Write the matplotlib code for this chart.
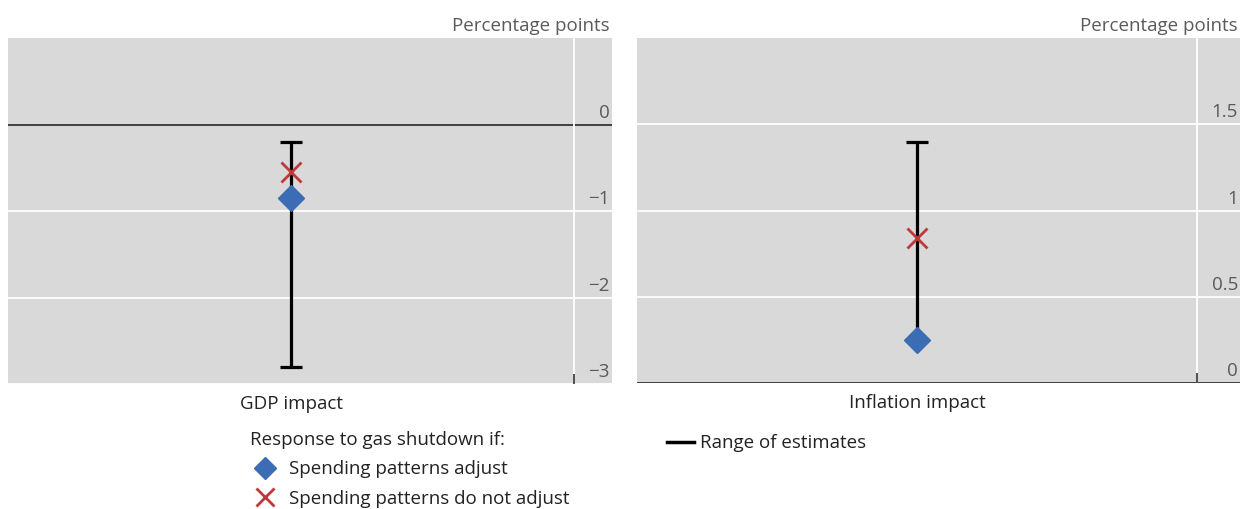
import matplotlib.pyplot as plt
from matplotlib.lines import Line2D
import matplotlib.transforms as mtransforms

plt.rcParams['font.family'] = ['Open Sans', 'DejaVu Sans']

# data
panels = ['GDP impact', 'Inflation impact']
range_low = [-2.8, 0.25]
range_high = [-0.2, 1.4]
adjust = [-0.85, 0.25]
no_adjust = [-0.55, 0.84]
ylims = [(-3, 1), (0, 2)]
yticks = [[0, -1, -2, -3], [1.5, 1, 0.5, 0]]
ytick_labels = [['0', '\u22121', '\u22122', '\u22123'], ['1.5', '1', '0.5', '0']]
unit = 'Percentage points'

bg = '#d9d9d9'
blue = '#3b6cb4'
red = '#c0383a'
grey_txt = '#5a5a5a'
dark_txt = '#222222'
fs = 13.5

fig = plt.figure(figsize=(12.43, 5.09), dpi=100)
W, H = 1243, 509
# pixel boxes (left, top, right, bottom) and plot-area right edge
boxes = [(8, 38, 612, 384, 574), (637, 38, 1240, 383, 1197)]

for i, (l, t, r, b, pr) in enumerate(boxes):
    ax = fig.add_axes([l / W, 1 - b / H, (r - l) / W, (b - t) / H])
    ax.set_facecolor(bg)
    for s in ax.spines.values():
        s.set_visible(False)
    plot_w = pr - l
    ax.set_xlim(-0.5, 0.5 + (r - pr) / plot_w)
    ax.set_ylim(*ylims[i])
    for v in yticks[i]:
        if v == 0:
            ax.axhline(v, color='#333333', lw=1.3, zorder=1)
        else:
            ax.axhline(v, color='white', lw=1.3, zorder=1)
    ax.axvline(0.5, color='white', lw=1.3, zorder=1)
    ax.set_yticks([])
    ax.set_xticks([0])
    ax.set_xticklabels([panels[i]], fontsize=fs, color=dark_txt)
    ax.tick_params(axis='x', length=0, pad=8)
    ax.set_xticks([0.5], minor=True)
    ax.tick_params(axis='x', which='minor', direction='in', length=7, width=1.2, color='#333333')
    for v, lbl in zip(yticks[i], ytick_labels[i]):
        ax.annotate(lbl, xy=(1, v), xycoords=('axes fraction', 'data'),
                    xytext=(-1.5, 2), textcoords='offset points',
                    ha='right', va='bottom', fontsize=fs, color=grey_txt)
    ax.text(1, 1, unit, transform=ax.transAxes + mtransforms.ScaledTranslation(-1.5 / 72, 2 / 72, fig.dpi_scale_trans),
            ha='right', va='bottom', fontsize=fs, color=grey_txt)

    mid = (range_low[i] + range_high[i]) / 2
    half = (range_high[i] - range_low[i]) / 2
    ax.errorbar([0], [mid], yerr=[[half], [half]], fmt='none', ecolor='black',
                elinewidth=2.3, capsize=8, capthick=2.3, zorder=3)
    ax.plot([0], [no_adjust[i]], 'x', color=red, ms=14, mew=2, zorder=4)
    ax.plot([0], [adjust[i]], 'D', color=blue, ms=13, zorder=5)

h_adj = Line2D([], [], ls='none', marker='D', color=blue, ms=11)
h_no = Line2D([], [], ls='none', marker='x', color=red, ms=13, mew=2)
leg1 = fig.legend([h_adj, h_no], ['Spending patterns adjust', 'Spending patterns do not adjust'],
                  title='Response to gas shutdown if:', loc='upper left',
                  bbox_to_anchor=(237 / W, 1 - 418 / H), frameon=False, fontsize=fs,
                  title_fontsize=fs, handlelength=1.6, handletextpad=0.45,
                  labelspacing=0.6, alignment='left', borderpad=0.2)
for t in leg1.get_texts():
    t.set_color(dark_txt)
leg1.get_title().set_color(dark_txt)

h_rng = Line2D([], [], color='black', lw=2.5)
leg2 = fig.legend([h_rng], ['Range of estimates'], loc='upper left',
                  bbox_to_anchor=(654 / W, 1 - 421 / H), frameon=False, fontsize=fs,
                  handlelength=1.45, handletextpad=0.3, borderpad=0.2)
for t in leg2.get_texts():
    t.set_color(dark_txt)

fig.savefig('out.png', dpi=100)
